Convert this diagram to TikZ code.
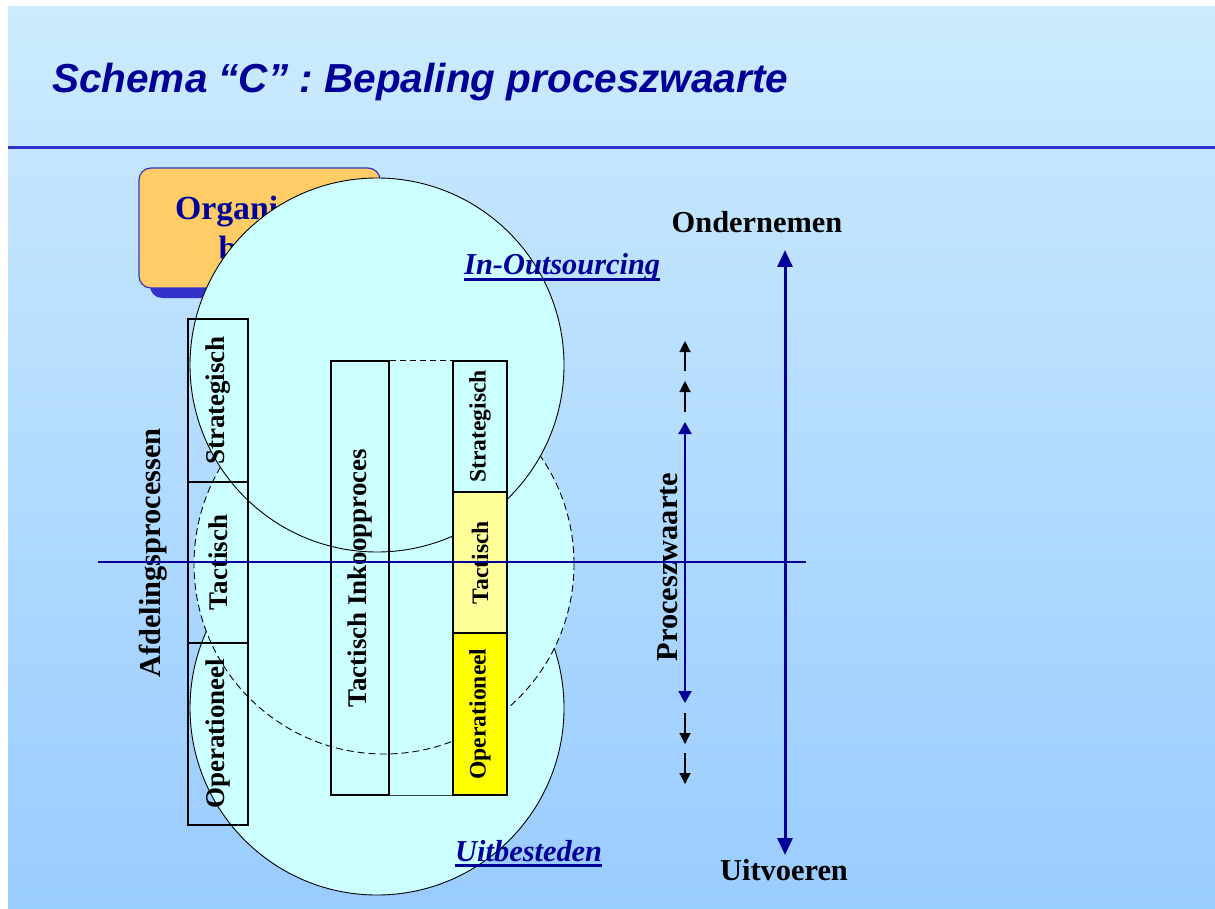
\documentclass[tikz,border=0pt]{standalone}
\usepackage{fontspec}
\setmainfont{Liberation Serif}
\newfontfamily\titlefont{Liberation Sans}
\usetikzlibrary{arrows.meta}

\definecolor{bgtop}{HTML}{CCEBFE}
\definecolor{bgbot}{HTML}{99CCFF}
\definecolor{navy}{HTML}{000099}
\definecolor{rulecol}{HTML}{3333CC}
\definecolor{discfill}{HTML}{CCFFFF}
\definecolor{orgfill}{HTML}{FFCC66}
\definecolor{paleyellow}{HTML}{FFFF99}
\definecolor{brightyellow}{HTML}{FFFF00}

\begin{document}
\begin{tikzpicture}[x=1pt,y=-1pt,
  disc/.style={fill=discfill, draw=black, line width=0.9pt},
  cell/.style={draw=black, line width=1.3pt, inner sep=0pt, rotate=90,
    font=\bfseries\fontsize{27}{30}\selectfont},
  smallcell/.style={cell, font=\bfseries\fontsize{23.6}{26}\selectfont},
  axislabel/.style={font=\bfseries\fontsize{30.4}{34}\selectfont, inner sep=0pt},
  linklabel/.style={font=\bfseries\itshape\fontsize{30.4}{34}\selectfont, text=navy,
    inner sep=0pt, anchor=base west},
  uline/.style={navy, line width=2.5pt},
  tick/.style={line width=1.2pt, -{Triangle[length=11pt,width=11pt]}},
]
\useasboundingbox (0,0) rectangle (1215,909);
\fill[white] (0,0) rectangle (1215,909);
\fill[top color=bgtop, bottom color=bgbot] (8,7) rectangle (1215,909);

% title and header rule
\node[anchor=base west, inner sep=0pt, text=navy,
  font=\titlefont\bfseries\itshape\fontsize{40.5}{44}\selectfont] (title) at (52,93)
  {Schema “C” : Bepaling proceszwaarte};
\coordinate (ruleL) at (8,148);
\coordinate (ruleR) at (1215,148);
\draw[rulecol, line width=3pt] (ruleL) -- (ruleR);

% organisation box with its shadow
\fill[rulecol, rounded corners=12pt] (150,178) rectangle (391,298);
\node[draw=rulecol, fill=orgfill, rounded corners=12pt, line width=1.2pt,
  minimum width=241pt, minimum height=120pt, align=center, text=navy,
  font=\bfseries\fontsize{33.8}{40}\selectfont] (org) at (259.5,228)
  {Organisatie\\breed};

% overlapping discs: bottom, middle (dashed), top
\draw[disc] (377,708) circle[radius=187pt];
\draw[disc, dash pattern=on 7pt off 4pt] (384,564) circle[radius=190pt];
\draw[disc] (377,365) circle[radius=187pt];

% department column
\node[cell, minimum width=163pt, minimum height=60pt] (lstrat) at (218,400.5) {Strategisch};
\node[cell, minimum width=161pt, minimum height=60pt] (ltact) at (218,562.5) {Tactisch};
\node[cell, minimum width=182pt, minimum height=60pt] (loper) at (218,734) {Operationeel};

% purchasing process column
\node[cell, minimum width=434pt, minimum height=58pt] (inkoop) at (360,578) {Tactisch Inkoopproces};

% process weight column
\node[smallcell, minimum width=131pt, minimum height=54pt] (rstrat) at (480,426.5) {Strategisch};
\node[smallcell, fill=paleyellow, minimum width=141pt, minimum height=54pt] (rtact) at (480,562.5) {Tactisch};
\node[smallcell, fill=brightyellow, minimum width=162pt, minimum height=54pt] (roper) at (480,714) {Operationeel};

\draw[line width=1.1pt, dash pattern=on 6pt off 4pt] (inkoop.south east) -- (rstrat.north east);
\draw[line width=1.3pt, black!75] (inkoop.south west) -- (roper.north west);

% side labels
\node[axislabel, rotate=90, anchor=base] (afd) at (160,553) {Afdelingsprocessen};
\node[axislabel, rotate=90, anchor=base] (pzw) at (677,567) {Proceszwaarte};

% links
\node[linklabel] (inout) at (464,275) {In-Outsourcing};
\draw[uline] ([yshift=-4.5pt]inout.base west) -- ([yshift=-4.5pt]inout.base east);
\node[linklabel] (uitb) at (455,861) {Uitbesteden};
\draw[uline] ([yshift=-4.5pt]uitb.base west) -- ([yshift=-4.5pt]uitb.base east);

% process weight arrows
\coordinate (a1s) at (685,371); \coordinate (a1e) at (685,341);
\coordinate (a2s) at (685,412); \coordinate (a2e) at (685,381);
\coordinate (b1) at (685,422); \coordinate (b2) at (685,703);
\coordinate (a3s) at (685,713); \coordinate (a3e) at (685,744);
\coordinate (a4s) at (685,753); \coordinate (a4e) at (685,784);
\draw[tick] (a1s) -- (a1e);
\draw[tick] (a2s) -- (a2e);
\draw[navy, line width=2pt, {Triangle[length=12pt,width=13pt]}-{Triangle[length=12pt,width=13pt]}] (b1) -- (b2);
\draw[tick] (a3s) -- (a3e);
\draw[tick] (a4s) -- (a4e);

% main vertical axis
\node[axislabel, anchor=base] (ond) at (757,233) {Ondernemen};
\node[axislabel, anchor=base] (uitv) at (784,880) {Uitvoeren};
\coordinate (axTop) at (785,250);
\coordinate (axBot) at (785,855);
\draw[navy, line width=3pt, {Triangle[length=17pt,width=15pt]}-{Triangle[length=17pt,width=15pt]}] (axBot) -- (axTop);

% horizontal centre line
\coordinate (hL) at (98,562);
\coordinate (hR) at (806,562);
\draw[navy, line width=1.5pt] (hL) -- (hR);
\end{tikzpicture}
\end{document}
